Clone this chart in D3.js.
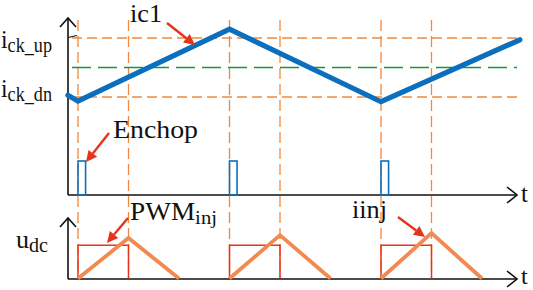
<!DOCTYPE html>
<html>
<head>
<meta charset="utf-8">
<script src="https://cdn.jsdelivr.net/npm/d3@7"></script>
<style>
  body { margin: 0; background: #fff; }
  svg { display: block; }
</style>
</head>
<body>
<div id="chart"></div>
<script>
// time marks (in PWM half-periods)
const switchTimes = [0, 1, 3, 4, 6, 7];
const chopStarts = [0, 3, 6];
const chopWidth = 0.15;
// ic1 current, normalised so i_ck_dn = 0 and i_ck_up = 1
const icTime = [-0.2, 0, 3, 6, 8.75];
const icValue = [0.03, -0.07, 1.15, -0.08, 0.97];
const levelNames = ['ck_dn', 'ck_up'];
const levelValues = [0, 1];
const refLevel = 0.5;
// injection: PWM pulse level and triangle iinj peaks
const pwmStarts = [0, 3, 6];
const pwmWidth = 1;
const pwmLevel = 0.82;
const triPeaks = [1.0, 1.07, 1.12];

const W = 533, H = 290;
const colBlue = '#0b6fbd', colOrange = '#f0893e', colGreen = '#11993a',
      colRed = '#e6331b', colTri = '#f2894f';

const svg = d3.select('#chart').append('svg')
  .attr('width', W).attr('height', H).attr('viewBox', `0 0 ${W} ${H}`);

const x = d3.scaleLinear().domain([0, 1]).range([78, 128.5]);
const yI = d3.scaleLinear().domain([0, 1]).range([97, 38]);
const yChop = d3.scaleLinear().domain([0, 1]).range([195, 161]);
const yLow = d3.scaleLinear().domain([0, 1]).range([278.5, 238]);

const x0 = 68, xEnd = 517;

// --- dashed guide lines ---
const guides = svg.append('g');
guides.selectAll('line.v').data(switchTimes).join('line')
  .attr('x1', d => x(d)).attr('x2', d => x(d))
  .attr('y1', 20).attr('y2', 278)
  .attr('stroke', colOrange).attr('stroke-width', 1.3)
  .attr('stroke-dasharray', '11 5');
guides.selectAll('line.h').data(levelValues).join('line')
  .attr('x1', 72).attr('x2', xEnd)
  .attr('y1', d => yI(d)).attr('y2', d => yI(d))
  .attr('stroke', colOrange).attr('stroke-width', 1.3)
  .attr('stroke-dasharray', '10 5');
guides.append('line')
  .attr('x1', 72).attr('x2', xEnd)
  .attr('y1', yI(refLevel)).attr('y2', yI(refLevel))
  .attr('stroke', colGreen).attr('stroke-width', 1.6)
  .attr('stroke-dasharray', '19 7');

// --- axes ---
const axes = svg.append('g').attr('fill', 'none').attr('stroke', '#111').attr('stroke-width', 1.6);
function vAxis(yTop, yBot) {
  axes.append('path').attr('d', `M${x0},${yBot}V${yTop}`);
  axes.append('path').attr('d', `M${x0 - 8},${yTop + 9}L${x0},${yTop}L${x0 + 8},${yTop + 9}`);
}
function hAxis(yy) {
  axes.append('path').attr('d', `M${x0},${yy}H${xEnd}`);
  axes.append('path').attr('d', `M${xEnd - 10},${yy - 8}L${xEnd},${yy}L${xEnd - 10},${yy + 8}`);
}
vAxis(18, 195); hAxis(195);
vAxis(218, 279); hAxis(279);
axes.append('path').attr('d', `M${x0},${yI(1) - 0.5}L${x0 + 9},${yI(1) - 2.5}`).attr('stroke-width', 1.2);

// --- ic1 ---
svg.append('path')
  .datum(d3.zip(icTime, icValue))
  .attr('fill', 'none').attr('stroke', colBlue).attr('stroke-width', 5.2)
  .attr('stroke-linejoin', 'miter').attr('stroke-linecap', 'round')
  .attr('d', d3.line().x(d => x(d[0])).y(d => yI(d[1])));

// --- Enchop pulses ---
svg.selectAll('rect.chop').data(chopStarts).join('rect')
  .attr('x', d => x(d)).attr('y', yChop(1))
  .attr('width', x(chopWidth) - x(0)).attr('height', yChop(0) - yChop(1))
  .attr('fill', 'none').attr('stroke', colBlue).attr('stroke-width', 1.6);

// --- PWM_inj pulses and iinj triangles ---
svg.selectAll('path.pwm').data(pwmStarts).join('path')
  .attr('fill', 'none').attr('stroke', colRed).attr('stroke-width', 1.5)
  .attr('d', d => `M${x(d)},${yLow(0)}V${yLow(pwmLevel)}H${x(d + pwmWidth)}V${yLow(0)}`);
svg.selectAll('path.tri').data(pwmStarts).join('path')
  .attr('fill', 'none').attr('stroke', colTri).attr('stroke-width', 3.8)
  .attr('stroke-linejoin', 'miter')
  .attr('d', (d, i) => d3.line()([[x(d), yLow(0)], [x(d + 1), yLow(triPeaks[i])], [x(d + 2), yLow(0)]]));

// --- annotation arrows ---
const arrows = [
  [[167, 23], [195, 45]],
  [[109, 133], [86, 162]],
  [[128, 218], [107, 243]],
  [[398, 217], [425, 237]]
];
arrows.forEach(([a, b]) => {
  const ang = Math.atan2(b[1] - a[1], b[0] - a[0]);
  const hl = 11, hw = 5.5;
  const bx = b[0] - hl * Math.cos(ang), by = b[1] - hl * Math.sin(ang);
  svg.append('line').attr('x1', a[0]).attr('y1', a[1]).attr('x2', bx).attr('y2', by)
    .attr('stroke', colRed).attr('stroke-width', 2.4);
  svg.append('path').attr('fill', colRed)
    .attr('d', `M${b[0]},${b[1]}L${bx + hw * Math.sin(ang)},${by - hw * Math.cos(ang)}L${bx - hw * Math.sin(ang)},${by + hw * Math.cos(ang)}Z`);
});

// --- labels ---
function label(px, py, main, sub, size, subSize, len) {
  const t = svg.append('text').attr('x', px).attr('y', py)
    .attr('font-family', 'Liberation Serif').attr('font-size', size).attr('fill', '#111').text(main);
  if (sub) t.append('tspan').attr('font-size', subSize).attr('dy', 4).text(sub);
  if (len) t.attr('textLength', len).attr('lengthAdjust', 'spacingAndGlyphs');
}
label(1, 48, 'i', levelNames[1], 26, 20, 51);
label(1, 97, 'i', levelNames[0], 26, 20, 51);
label(130, 22, 'ic1', null, 26, null, 32);
label(113, 138, 'Enchop', null, 25, null, 85);
label(130, 220, 'PWM', 'inj', 25, 19, 87);
label(352, 218, 'iinj', null, 26, null, 35);
label(16, 248, 'u', 'dc', 26, 20, 32);
label(521, 202, 't', null, 25);
label(521, 284, 't', null, 24);
</script>
</body>
</html>
